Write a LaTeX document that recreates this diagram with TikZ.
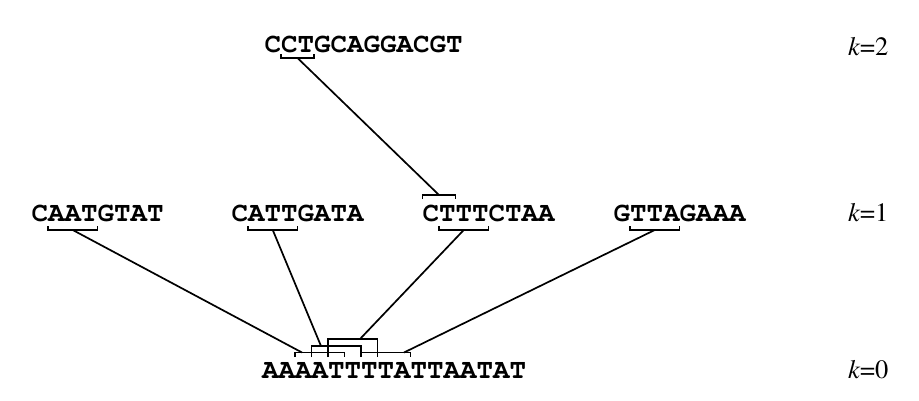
\documentclass[tikz,border=0pt]{standalone}
\usepackage[T1]{fontenc}
\usepackage{times}
\begin{document}
\begin{tikzpicture}[x=1pt,y=-1pt,
  seq/.style={font=\ttfamily\bfseries\fontsize{27.5}{30}\selectfont, anchor=base west, inner sep=0pt, outer sep=0pt},
  lvl/.style={font=\rmfamily\fontsize{26.5}{30}\selectfont, anchor=base west, inner sep=0pt, outer sep=0pt},
  brk/.style={line width=1.8pt, line cap=butt, line join=miter},
  link/.style={line width=1.7pt}]
\useasboundingbox (0,0) rectangle (919,400);
% sequences
\node[seq] (s2) at (264.5,52) {CCTGCAGGACGT};
\node[seq] (sa) at (31.5,221) {CAATGTAT};
\node[seq] (sb) at (231.5,221) {CATTGATA};
\node[seq] (sc) at (422.5,221) {CTTTCTAA};
\node[seq] (sd) at (613.5,221) {GTTAGAAA};
\node[seq] (s0) at (262,378) {AAAATTTTATTAATAT};
% level labels
\node[lvl] (l2) at (848,55) {\textit{k}=2};
\node[lvl] (l1) at (848,221) {\textit{k}=1};
\node[lvl] (l0) at (848,378) {\textit{k}=0};
% brackets
\draw[brk] (281,54) -- (281,58) -- (314,58) -- (314,54);
\draw[brk] (422.5,199) -- (422.5,195) -- (455.5,195) -- (455.5,199);
\draw[brk] (48,226) -- (48,230) -- (97.5,230) -- (97.5,226);
\draw[brk] (248,226) -- (248,230) -- (297.5,230) -- (297.5,226);
\draw[brk] (439,226) -- (439,230) -- (488.5,230) -- (488.5,226);
\draw[brk] (630,226) -- (630,230) -- (679.5,230) -- (679.5,226);
\draw[brk] (295,357) -- (295,352.5) -- (344.5,352.5) -- (344.5,357);
\draw[brk] (311.5,357) -- (311.5,346) -- (361,346) -- (361,357);
\draw[brk] (328,357) -- (328,339) -- (377.5,339) -- (377.5,357);
\draw[brk] (361,357) -- (361,352.5) -- (410.5,352.5) -- (410.5,357);
% attachment points
\coordinate (t2) at (297.5,58);
\coordinate (tc) at (439,195);
\coordinate (ba) at (72.75,230);
\coordinate (bb) at (272.75,230);
\coordinate (bc) at (463.75,230);
\coordinate (bd) at (654.75,230);
\coordinate (p1) at (302,352.5);
\coordinate (p2) at (321,346);
\coordinate (p3) at (360,339);
\coordinate (p4) at (404,352.5);
% links
\draw[link] (t2) -- (tc);
\draw[link] (ba) -- (p1);
\draw[link] (bb) -- (p2);
\draw[link] (bc) -- (p3);
\draw[link] (bd) -- (p4);
\end{tikzpicture}
\end{document}
